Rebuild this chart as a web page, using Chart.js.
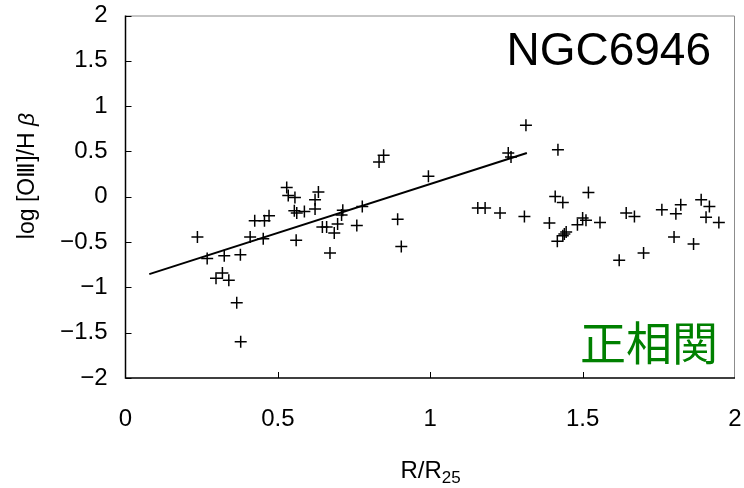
<!DOCTYPE html>
<html>
<head>
<meta charset="utf-8">
<script src="https://cdn.jsdelivr.net/npm/chart.js@4/dist/chart.umd.min.js"></script>
<style>
  html, body { margin: 0; padding: 0; background: #fff; }
  #wrap { width: 744px; height: 488px; position: relative; }
</style>
</head>
<body>
<div id="wrap"><canvas id="myChart" width="744" height="488"></canvas></div>
<script>
// R/R25 and log [OIII]/Hb
const radius = [0.236, 0.268, 0.324, 0.377, 0.318, 0.297, 0.339, 0.365, 0.378, 0.409,
  0.452, 0.424, 0.456, 0.471, 0.529, 0.534, 0.556, 0.554, 0.562, 0.587,
  0.56, 0.622, 0.622, 0.633, 0.646, 0.66, 0.685, 0.696, 0.709, 0.713,
  0.671, 0.759, 0.777, 0.832, 0.847, 0.893, 0.905, 0.994, 1.156, 1.18,
  1.229, 1.309, 1.256, 1.265, 1.314, 1.391, 1.419, 1.41, 1.435, 1.519,
  1.483, 1.50, 1.511, 1.557, 1.417, 1.435, 1.446, 1.44, 1.643, 1.67,
  1.62, 1.70, 1.76, 1.806, 1.822, 1.80, 1.864, 1.889, 1.916, 1.905, 1.947];
const ratio = [-0.445, -0.68, -0.65, -0.64, -0.84, -0.90, -0.92, -1.17, -1.60, -0.445,
  -0.464, -0.265, -0.265, -0.21, 0.103, 0.014, -0.008, -0.155, -0.18, -0.162,
  -0.48, -0.136, -0.033, 0.052, -0.335, -0.335, -0.40, -0.30, -0.20, -0.15,
  -0.62, -0.317, -0.107, 0.383, 0.457, -0.247, -0.55, 0.225, -0.125, -0.125,
  -0.18, -0.217, 0.483, 0.44, 0.788, -0.29, 0.52, 0.003, -0.063, 0.048,
  -0.31, -0.235, -0.26, -0.284, -0.49, -0.43, -0.39, -0.41, -0.18, -0.217,
  -0.70, -0.62, -0.144, -0.188, -0.088, -0.445, -0.52, -0.033, -0.107, -0.225, -0.284];

// fitted line end points
const fitX = [0.078, 1.317];
const fitY = [-0.854, 0.483];

const xTicks = [0, 0.5, 1, 1.5, 2];
const yTicks = [-2, -1.5, -1, -0.5, 0, 0.5, 1, 1.5, 2];

const galaxyName = 'NGC6946';
const tagText = '正相関';

const points = radius.map((r, i) => ({ x: r, y: ratio[i] }));
const fitLine = fitX.map((x, i) => ({ x: x, y: fitY[i] }));

const FONT = '"Liberation Sans", Arial, sans-serif';

function minusLabel(v) {
  return v < 0 ? '\u2212' + Math.abs(v) : String(v);
}

// frame, inward tick marks and the extra texts
const decorations = {
  id: 'decorations',
  afterDraw(chart) {
    const ctx = chart.ctx;
    const a = chart.chartArea;
    const xs = chart.scales.x, ys = chart.scales.y;
    ctx.save();
    // gray top/right border
    ctx.strokeStyle = '#8c8c8c';
    ctx.lineWidth = 1;
    ctx.beginPath();
    ctx.moveTo(a.left, a.top + 0.5);
    ctx.lineTo(a.right - 0.5, a.top + 0.5);
    ctx.lineTo(a.right - 0.5, a.bottom);
    ctx.stroke();
    // black left/bottom axes
    ctx.strokeStyle = '#000';
    ctx.lineWidth = 1.5;
    ctx.beginPath();
    ctx.moveTo(a.left, a.top);
    ctx.lineTo(a.left, a.bottom);
    ctx.lineTo(a.right, a.bottom);
    ctx.stroke();
    ctx.lineWidth = 1;
    ctx.beginPath();
    yTicks.forEach(v => {
      const py = Math.round(ys.getPixelForValue(v)) + 0.5;
      ctx.moveTo(a.left, py);
      ctx.lineTo(a.left + 6, py);
    });
    xTicks.slice(1, -1).forEach(v => {
      const px = Math.round(xs.getPixelForValue(v)) + 0.5;
      ctx.moveTo(px, a.bottom);
      ctx.lineTo(px, a.bottom - 6);
    });
    ctx.stroke();

    // y axis title
    ctx.fillStyle = '#000';
    ctx.save();
    ctx.translate(34, 176);
    ctx.rotate(-Math.PI / 2);
    ctx.textBaseline = 'alphabetic';
    ctx.textAlign = 'left';
    const t1 = 'log [OⅢ]/H ';
    ctx.font = 'italic 23px ' + FONT;
    const wb = ctx.measureText('β').width;
    ctx.font = '23px ' + FONT;
    const w1 = ctx.measureText(t1).width;
    const sx = -(w1 + wb) / 2;
    ctx.fillText(t1, sx, 0);
    ctx.font = 'italic 23px ' + FONT;
    ctx.fillText('β', sx + w1, 0);
    ctx.restore();

    // x axis title with subscript
    ctx.textAlign = 'left';
    ctx.textBaseline = 'alphabetic';
    ctx.font = '24px ' + FONT;
    const main = 'R/R';
    const w = ctx.measureText(main).width;
    ctx.font = '17px ' + FONT;
    const w2 = ctx.measureText('25').width;
    const startX = 430.5 - (w + w2) / 2;
    ctx.font = '24px ' + FONT;
    ctx.fillText(main, startX, 478);
    ctx.font = '17px ' + FONT;
    ctx.fillText('25', startX + w, 483);

    // galaxy name
    ctx.font = '46px ' + FONT;
    ctx.textAlign = 'right';
    ctx.fillText(galaxyName, 711, 65);

    // correlation tag
    ctx.fillStyle = '#008000';
    ctx.font = '46px "Noto Sans CJK JP", sans-serif';
    ctx.textAlign = 'center';
    ctx.textBaseline = 'middle';
    ctx.fillText(tagText, 649, 343);
    ctx.restore();
  }
};

window.onload = function() {
  const ctx = document.getElementById('myChart').getContext('2d');
  new Chart(ctx, {
    type: 'scatter',
    data: {
      datasets: [{
        label: 'data',
        data: points,
        pointStyle: 'cross',
        pointRadius: 6,
        pointBorderWidth: 1.5,
        borderColor: '#000',
        backgroundColor: '#000'
      }, {
        type: 'line',
        label: 'fit',
        data: fitLine,
        borderColor: '#000',
        borderWidth: 2,
        pointRadius: 0,
        fill: false
      }]
    },
    options: {
      responsive: false,
      animation: false,
      layout: { padding: { left: 0, right: 9, top: 15.5, bottom: 0 } },
      plugins: { legend: { display: false }, tooltip: { enabled: false } },
      scales: {
        x: {
          type: 'linear',
          min: 0, max: 2,
          afterBuildTicks: s => { s.ticks = xTicks.map(v => ({ value: v })); },
          afterFit: s => { s.height = 110; s.paddingLeft = 0; s.paddingRight = 0; },
          grid: { display: false, drawTicks: false },
          border: { display: false },
          ticks: {
            padding: 27,
            color: '#000',
            maxRotation: 0,
            font: { family: FONT, size: 24 },
            callback: v => minusLabel(v)
          }
        },
        y: {
          type: 'linear',
          min: -2, max: 2,
          afterBuildTicks: s => { s.ticks = yTicks.map(v => ({ value: v })); },
          afterFit: s => { s.width = 125.5; s.paddingTop = 0; s.paddingBottom = 0; },
          grid: { display: false, drawTicks: false },
          border: { display: false },
          ticks: {
            padding: 18,
            color: '#000',
            font: { family: FONT, size: 24 },
            callback: v => minusLabel(v)
          }
        }
      }
    },
    plugins: [decorations]
  });
};
</script>
</body>
</html>
